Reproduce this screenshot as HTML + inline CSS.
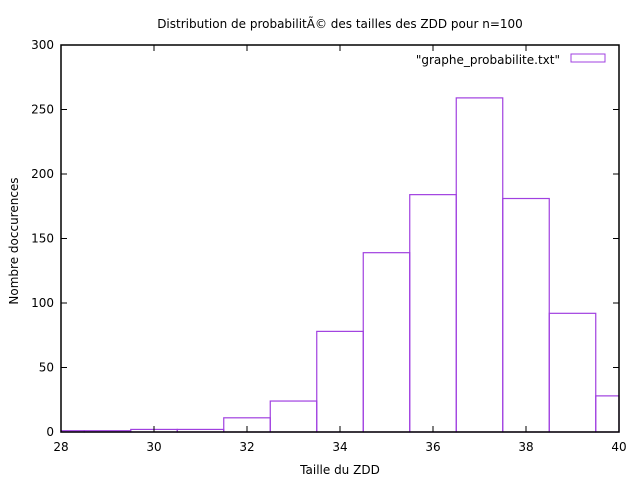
<!DOCTYPE html>
<html><head><meta charset="utf-8"><style>
body{margin:0;background:#fff;}
svg text{font-family:"DejaVu Sans","Liberation Sans",sans-serif;font-size:12px;fill:#000;}
</style></head><body>
<svg id="chart" width="640" height="480" xmlns="http://www.w3.org/2000/svg">
<text x="340" y="28" text-anchor="middle">Distribution de probabilitÃ© des tailles des ZDD pour n=100</text>
<g id="bars"></g>
<g id="axes"></g>
<text x="340" y="474" text-anchor="middle">Taille du ZDD</text>
<text transform="translate(18,241) rotate(-90)" text-anchor="middle">Nombre doccurences</text>
<g>
<text x="560" y="64" text-anchor="end">"graphe_probabilite.txt"</text>
<rect x="571" y="54" width="34" height="8" fill="none" stroke="#a040e0"/>
</g>
</svg>
<script>
const categories=[28,29,30,31,32,33,34,35,36,37,38,39,40];
const counts=[1,1,2,2,11,24,78,139,184,259,181,92,28];
const xTicks=[28,30,32,34,36,38,40];
const yTicks=[0,50,100,150,200,250,300];
const L=61,R=619,T=45,B=432,xmin=28,xmax=40,ymax=300;
const sx=v=>L+(v-xmin)/(xmax-xmin)*(R-L);
const sy=v=>B-v/ymax*(B-T);
const NS="http://www.w3.org/2000/svg";
const bars=document.getElementById('bars'),axes=document.getElementById('axes');
function mk(tag,attrs,parent){const e=document.createElementNS(NS,tag);for(const k in attrs)e.setAttribute(k,attrs[k]);parent.appendChild(e);return e;}
categories.forEach((c,i)=>{
  const x0=Math.max(sx(c-0.5),L),x1=Math.min(sx(c+0.5),R);
  const r=mk('rect',{x:x0,y:sy(counts[i]),width:x1-x0,height:B-sy(counts[i]),fill:'none',stroke:'#a040e0','stroke-width':1.2},bars);
  
  
});
mk('rect',{x:L,y:T,width:R-L,height:B-T,fill:'none',stroke:'#000','stroke-width':1.5},axes);
xTicks.forEach(t=>{
  const x=sx(t);
  mk('line',{x1:x,y1:B,x2:x,y2:B-6,stroke:'#000'},axes);
  mk('line',{x1:x,y1:T,x2:x,y2:T+6,stroke:'#000'},axes);
  const tx=mk('text',{x:x,y:B+19,'text-anchor':'middle'},axes);tx.textContent=t;
  
  
});
yTicks.forEach(t=>{
  const y=sy(t);
  mk('line',{x1:L,y1:y,x2:L+6,y2:y,stroke:'#000'},axes);
  mk('line',{x1:R,y1:y,x2:R-6,y2:y,stroke:'#000'},axes);
  const tx=mk('text',{x:L-7,y:y+4,'text-anchor':'end'},axes);tx.textContent=t;
  
  
});
</script>
</body></html>
